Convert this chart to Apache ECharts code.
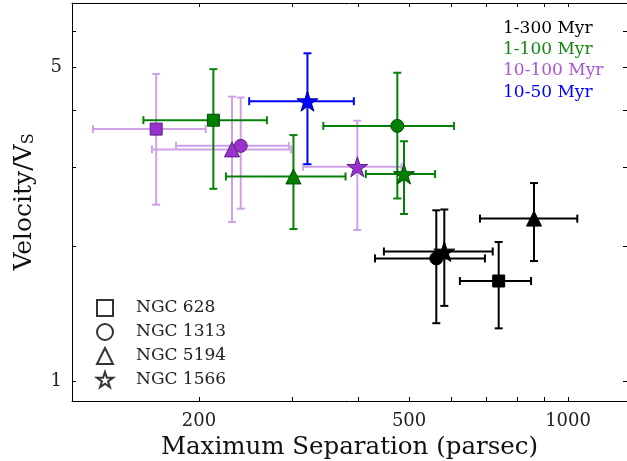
<!DOCTYPE html>
<html>
<head>
<meta charset="utf-8">
<script src="https://cdn.jsdelivr.net/npm/echarts@6/dist/echarts.min.js"></script>
<style>
  html, body { margin:0; padding:0; background:#fff; }
  #chart { width:627px; height:461px; }
</style>
</head>
<body>
<div id="chart"></div>
<script>
// rows follow galaxy order: NGC 628, NGC 1313, NGC 5194, NGC 1566
// [separation, sepLow, sepHigh, velocity, velLow, velHigh]
const galaxies = ['NGC 628', 'NGC 1313', 'NGC 5194', 'NGC 1566'];
const ageGroups = ['1-300 Myr', '1-100 Myr', '10-100 Myr', '10-50 Myr'];

const age1to300 = [
    [739, 624, 851, 1.67, 1.31, 2.04],
    [563, 431, 696, 1.875, 1.345, 2.40],
    [862, 681, 1041, 2.30, 1.85, 2.76],
    [583, 448, 720, 1.943, 1.47, 2.41]
];
const age1to100 = [
    [213, 157, 269, 3.81, 2.68, 4.95],
    [475, 344, 608, 3.70, 2.55, 4.86],
    [302, 225, 379, 2.855, 2.18, 3.53],
    [489, 414, 560, 2.89, 2.355, 3.42]
];
const age10to100 = [
    [166, 126, 206, 3.64, 2.47, 4.83],
    [240, 181, 296, 3.34, 2.42, 4.28],
    [231, 163, 299, 3.28, 2.26, 4.30],
    [399, 315, 484, 3.00, 2.17, 3.80]
];
const age10to50 = [
    null,
    null,
    null,
    [321, 249, 393, 4.20, 3.04, 5.37]
];

const xTicks = [200, 300, 400, 500, 600, 700, 800, 900, 1000];
const xLabels = [200, 500, 1000];
const yTicks = [1, 2, 3, 4, 5, 6];
const yLabels = [1, 5];

const starPath = 'path://M0,-100L22.45,-30.9L95.1,-30.9L36.33,11.8L58.8,80.9L0,38.2L-58.8,80.9L-36.33,11.8L-95.1,-30.9L-22.45,-30.9Z';
const symbols = ['rect', 'circle', 'triangle', starPath];
const symbolSizes = [12, 13, 15, 21];
const font = '"DejaVu Serif", "Liberation Serif", serif';

// colour per age group: marker fill, marker edge, error bar, label
const groupStyles = [
    { fill:'#000000', edge:'#000000', bar:'#000000', text:'#000000' },
    { fill:'#008000', edge:'#004d00', bar:'#078007', text:'#118811' },
    { fill:'#9932cc', edge:'#5e1f7e', bar:'#cfa2e8', text:'#a855d6' },
    { fill:'#0000ff', edge:'#00008b', bar:'#0000ff', text:'#0000ff' }
];
const groupData = [age1to300, age1to100, age10to100, age10to50];
const drawOrder = [2, 1, 3, 0];

function errorBars(color){
    return function(params, api){
        let x = api.value(0), y = api.value(1);
        let pc = api.coord([x, y]);
        let pl = api.coord([api.value(2), y]);
        let pr = api.coord([api.value(3), y]);
        let pb = api.coord([x, api.value(4)]);
        let pt = api.coord([x, api.value(5)]);
        let cap = 4;
        let style = { stroke:color, lineWidth:2 };
        let line = (x1, y1, x2, y2)=>({ type:'line', shape:{ x1, y1, x2, y2 }, style });
        return {
            type:'group',
            children:[
                line(pl[0], pc[1], pr[0], pc[1]),
                line(pc[0], pb[1], pc[0], pt[1]),
                line(pl[0], pc[1]-cap, pl[0], pc[1]+cap),
                line(pr[0], pc[1]-cap, pr[0], pc[1]+cap),
                line(pc[0]-cap, pb[1], pc[0]+cap, pb[1]),
                line(pc[0]-cap, pt[1], pc[0]+cap, pt[1])
            ]
        };
    };
}

let series = [];
drawOrder.forEach((g, k)=>{
    let rows = groupData[g];
    let st = groupStyles[g];
    let barData = [];
    let markData = [];
    rows.forEach((r, i)=>{
        if ( !r ) return;
        barData.push([r[0], r[3], r[1], r[2], r[4], r[5]]);
        markData.push({
            value:[r[0], r[3]],
            symbol:symbols[i],
            symbolSize:symbolSizes[i],
            symbolKeepAspect:true
        });
    });
    series.push({
        type:'custom',
        name:ageGroups[g] + ' err',
        renderItem:errorBars(st.bar),
        data:barData,
        encode:{ x:0, y:1 },
        clip:true,
        silent:true,
        z:2 + k*2
    });
    series.push({
        type:'scatter',
        name:ageGroups[g],
        data:markData,
        symbolKeepAspect:true,
        itemStyle:{ color:st.fill, borderColor:st.edge, borderWidth:1, opacity:1 },
        z:3 + k*2
    });
});
// legend-only series for galaxy marker shapes
galaxies.forEach((name, i)=>{
    series.push({
        type:'scatter',
        name:name,
        data:[],
        symbol:symbols[i],
        itemStyle:{ color:'#fff', borderColor:'#000', borderWidth:2 }
    });
});

const axisCommon = {
    type:'log',
    logBase:10,
    splitLine:{ show:false },
    minorTick:{ show:false },
    axisLine:{ show:true, lineStyle:{ color:'#000', width:1 } },
    axisTick:{ show:true, inside:true, length:4, lineStyle:{ color:'#000', width:1 } }
};

let chart = echarts.init(document.getElementById('chart'), null, { renderer:'canvas' });
let option = {
    animation:false,
    backgroundColor:'#fff',
    grid:{ left:72, right:0, top:3, bottom:60, containLabel:false, outerBoundsMode:'none' },
    legend:{
        data:galaxies.map((name, i)=>({
            name:name,
            icon:symbols[i],
            itemStyle:{ color:'#fff', borderColor:'#000', borderWidth:2 }
        })),
        orient:'vertical',
        left:96,
        top:299,
        padding:0,
        itemWidth:16,
        itemHeight:16,
        itemGap:6,
        selectedMode:false,
        textStyle:{ fontFamily:font, fontSize:17, color:'#222', padding:[0,0,0,18], lineHeight:16 }
    },
    xAxis:[
        Object.assign({}, axisCommon, {
            position:'bottom',
            min:115, max:1293,
            name:'Maximum Separation (parsec)',
            nameLocation:'middle',
            nameGap:27,
            nameTextStyle:{ fontFamily:font, fontSize:24.5, color:'#111' },
            axisTick:Object.assign({}, axisCommon.axisTick, { customValues:xTicks }),
            axisLabel:{ show:true, customValues:xLabels, margin:11, fontFamily:font, fontSize:18, color:'#222', formatter:v=>String(Math.round(v)) }
        }),
        Object.assign({}, axisCommon, {
            position:'top',
            min:115, max:1293,
            axisTick:Object.assign({}, axisCommon.axisTick, { customValues:xTicks }),
            axisLabel:{ show:false }
        })
    ],
    yAxis:[
        Object.assign({}, axisCommon, {
            position:'left',
            min:0.9025, max:6.95,
            name:'{a|Velocity/V}{b|S}',
            nameLocation:'middle',
            nameRotate:90,
            nameGap:35,
            nameTextStyle:{
                rich:{
                    a:{ fontFamily:font, fontSize:25, color:'#111', lineHeight:28, verticalAlign:'bottom' },
                    b:{ fontFamily:font, fontSize:16, color:'#111', lineHeight:16, verticalAlign:'bottom' }
                }
            },
            axisTick:Object.assign({}, axisCommon.axisTick, { customValues:yTicks }),
            axisLabel:{ show:true, customValues:yLabels, margin:10, fontFamily:font, fontSize:18, color:'#222', formatter:v=>String(Math.round(v)) }
        }),
        Object.assign({}, axisCommon, {
            position:'right',
            min:0.9025, max:6.95,
            axisTick:Object.assign({}, axisCommon.axisTick, { customValues:yTicks }),
            axisLabel:{ show:false }
        })
    ],
    graphic:ageGroups.map((name, g)=>({
        type:'text',
        x:503,
        y:28.5 + g*21.2,
        silent:true,
        style:{ text:name, fill:groupStyles[g].text, font:'17px ' + font, verticalAlign:'middle' }
    })),
    series:series
};
chart.setOption(option);
</script>
</body>
</html>
